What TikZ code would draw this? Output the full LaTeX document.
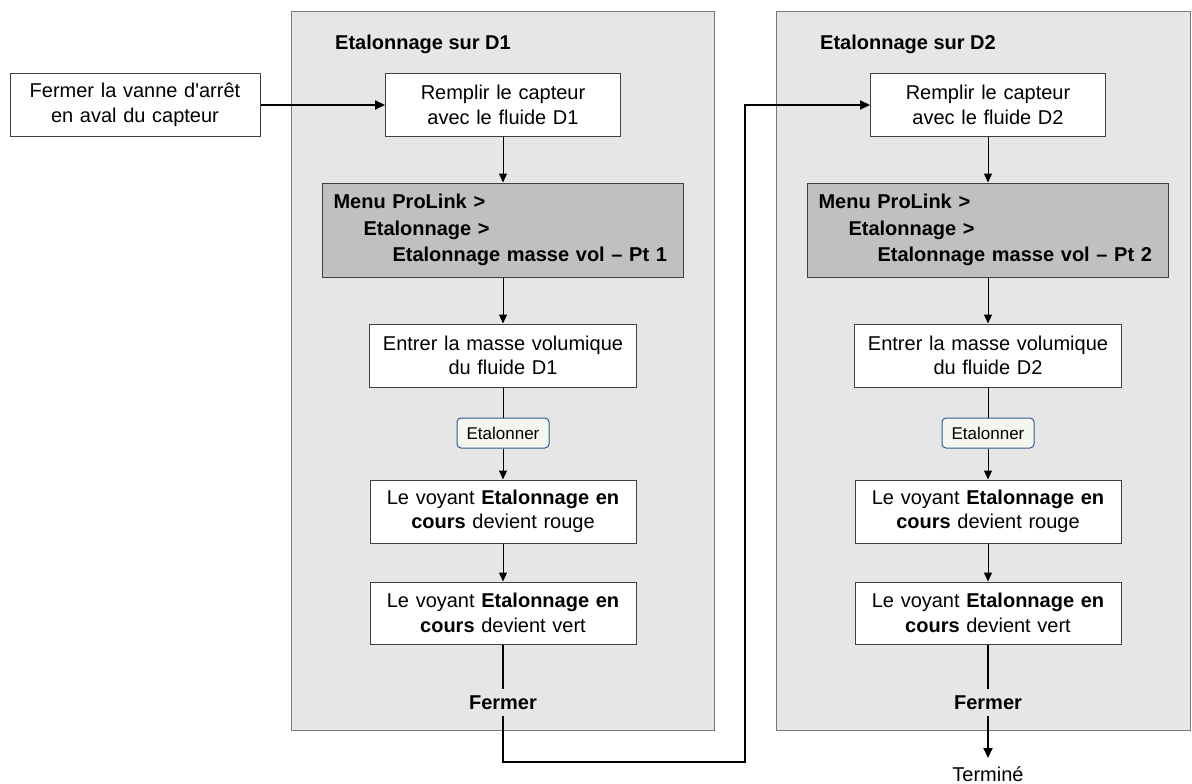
\documentclass[tikz,border=0pt]{standalone}
\usepackage{fontspec}
\setmainfont{Liberation Sans}[Ligatures=TeXOff]
\usetikzlibrary{arrows.meta}
\definecolor{panelfill}{HTML}{E6E6E6}
\definecolor{panelline}{HTML}{7A7A7A}
\definecolor{boxline}{HTML}{404040}
\definecolor{menufill}{HTML}{C0C0C0}
\definecolor{btnline}{HTML}{2B5C8F}
\definecolor{btnfill}{HTML}{F6F6F1}
\begin{document}
\begin{tikzpicture}[x=1pt,y=-1pt,
  txt/.style={font=\fontsize{20}{24.5}\selectfont},
  paneltitle/.style={font=\bfseries\fontsize{20}{24.5}\selectfont, inner sep=0pt, anchor=base west},
  panel/.style={draw=panelline, fill=panelfill, line width=1pt},
  box/.style={draw=boxline, line width=1pt, fill=white, align=center, inner sep=0pt, txt},
  menu/.style={draw=boxline, line width=1pt, fill=menufill, align=left, inner xsep=11pt, inner ysep=0pt, font=\bfseries\fontsize{20}{26.5}\selectfont},
  btn/.style={draw=btnline, line width=1pt, fill=btnfill, rounded corners=4pt, font=\fontsize{17}{20}\selectfont, inner sep=0pt},
  closelbl/.style={font=\bfseries\fontsize{20}{24.5}\selectfont, inner sep=0pt, minimum height=27pt},
  arr/.style={-{Triangle[length=9pt,width=8pt]}, line width=1pt},
  bigarr/.style={-{Triangle[length=10pt,width=9pt]}, line width=2pt},
  ln/.style={line width=1pt},
  bigln/.style={line width=2pt}
]
\useasboundingbox (0,0) rectangle (1192,784);
% panels
\draw[panel] (291.5,11.5) rectangle (714,730);
\draw[panel] (776.5,11.5) rectangle (1190,730);
\node[paneltitle] (t1) at (335,50) {Etalonnage sur D1};
\node[paneltitle] (t2) at (820,50) {Etalonnage sur D2};
% start box
\node[box, text width=250pt, minimum height=63pt] (start) at (135,105) {Fermer la vanne d'arrêt\\en aval du capteur};
% D1 column
\node[box, text width=235pt, minimum height=62pt] (fill1) at (503,105) {Remplir le capteur\\avec le fluide D1};
\node[menu, text width=339pt, minimum height=94pt] (menu1) at (503,230) {Menu ProLink >\\\hspace*{30pt}Etalonnage >\\\hspace*{59pt}Etalonnage masse vol – Pt 1};
\node[box, text width=267pt, minimum height=63pt] (enter1) at (503,355.5) {Entrer la masse volumique\\du fluide D1};
\node[btn, minimum width=92pt, minimum height=30pt] (btn1) at (503,433) {Etalonner};
\node[box, text width=266pt, minimum height=63pt] (red1) at (503,511.5) {Le voyant \textbf{Etalonnage en}\\\textbf{cours} devient rouge};
\node[box, text width=266pt, minimum height=62pt] (green1) at (503,613) {Le voyant \textbf{Etalonnage en}\\\textbf{cours} devient vert};
\node[closelbl] (close1) at (503,702.5) {Fermer};
% D2 column
\node[box, text width=235pt, minimum height=62pt] (fill2) at (988,105) {Remplir le capteur\\avec le fluide D2};
\node[menu, text width=339pt, minimum height=94pt] (menu2) at (988,230) {Menu ProLink >\\\hspace*{30pt}Etalonnage >\\\hspace*{59pt}Etalonnage masse vol – Pt 2};
\node[box, text width=267pt, minimum height=63pt] (enter2) at (988,355.5) {Entrer la masse volumique\\du fluide D2};
\node[btn, minimum width=92pt, minimum height=30pt] (btn2) at (988,433) {Etalonner};
\node[box, text width=266pt, minimum height=63pt] (red2) at (988,511.5) {Le voyant \textbf{Etalonnage en}\\\textbf{cours} devient rouge};
\node[box, text width=266pt, minimum height=62pt] (green2) at (988,613) {Le voyant \textbf{Etalonnage en}\\\textbf{cours} devient vert};
\node[closelbl] (close2) at (988,702.5) {Fermer};
\node[txt, inner xsep=0pt, inner ysep=9pt, anchor=north] (done) at (988,758) {Terminé};
\coordinate (bend) at (745,762);
% connectors
\draw[bigarr] (start.east) -- (fill1.west);
\draw[arr] (fill1.south) -- (menu1.north);
\draw[arr] (menu1.south) -- (enter1.north);
\draw[ln] (enter1.south) -- (btn1.north);
\draw[arr] (btn1.south) -- (red1.north);
\draw[arr] (red1.south) -- (green1.north);
\draw[bigln] (green1.south) -- (close1.north);
\draw[bigarr] (close1.south) |- (bend) |- (fill2.west);
\draw[arr] (fill2.south) -- (menu2.north);
\draw[arr] (menu2.south) -- (enter2.north);
\draw[ln] (enter2.south) -- (btn2.north);
\draw[arr] (btn2.south) -- (red2.north);
\draw[arr] (red2.south) -- (green2.north);
\draw[bigln] (green2.south) -- (close2.north);
\draw[bigarr] (close2.south) -- (done.north);
\end{tikzpicture}
\end{document}
